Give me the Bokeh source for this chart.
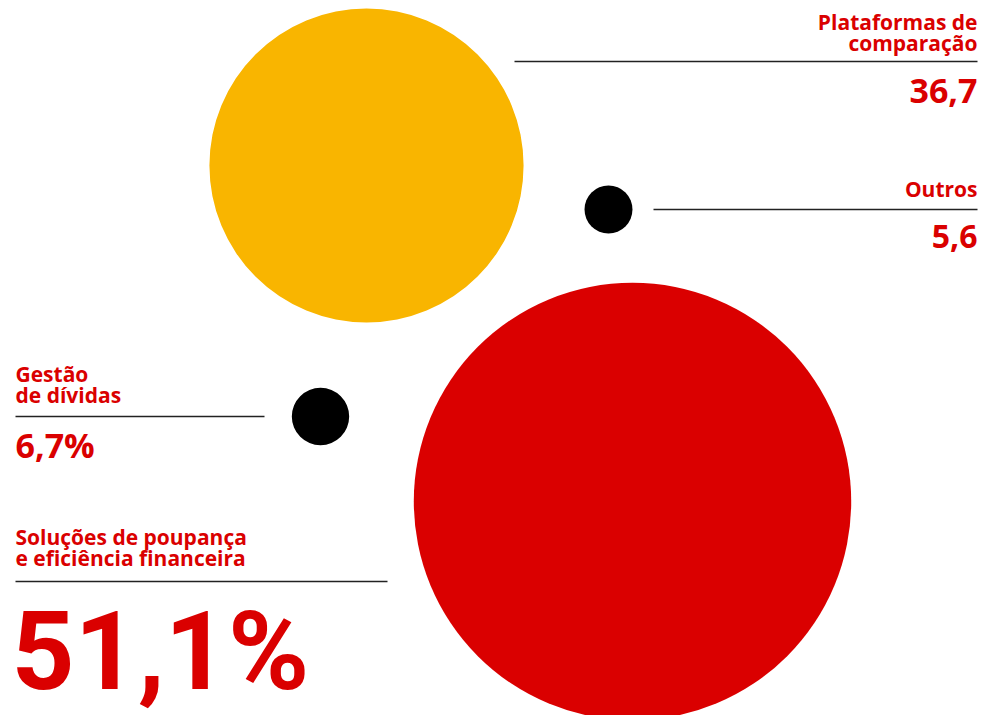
from bokeh.plotting import figure
from bokeh.models import Range1d
from bokeh.core.properties import value
from bokeh.embed import file_html
from bokeh.resources import INLINE

# ---- data ----
categories = ["Soluções de poupança e eficiência financeira",
              "Plataformas de comparação",
              "Gestão de dívidas",
              "Outros"]
values = [51.1, 36.7, 6.7, 5.6]
value_labels = ["51,1%", "36,7", "6,7%", "5,6"]
label_lines = [["Soluções de poupança", "e eficiência financeira"],
               ["Plataformas de", "comparação"],
               ["Gestão", "de dívidas"],
               ["Outros"]]
colors = ["#DA0000", "#F9B500", "#000000", "#000000"]

# ---- layout (pixel coordinates, y downward) ----
W, H = 993, 715
radius_per_unit = 4.28
centers_x = [632, 366, 320, 608]
centers_y = [501, 165, 416, 209]
label_x = [15, 977, 15, 977]
label_align = ["left", "right", "left", "right"]
label_base = [543, 28, 380, 195]
rule_y = [581, 61, 416, 209]
rule_x0 = [15, 514, 15, 653]
rule_x1 = [387, 977, 264, 977]
value_base = [687, 102, 456, 247]
value_px = [110, 34, 34, 32]
value_font = ["Roboto", "Open Sans", "Open Sans", "Open Sans"]
label_px = 21
shift = 0.33  # baseline correction in em

TEXT_RED = "#DA0000"

p = figure(width=W, height=H, output_backend="svg", toolbar_location=None,
           x_range=Range1d(0, W), y_range=Range1d(H, 0),
           min_border=0, tools="")
p.axis.visible = False
p.grid.visible = False
p.outline_line_color = None
p.background_fill_color = "white"
p.border_fill_color = "white"

radii = [v * radius_per_unit for v in values]
p.circle(x=centers_x, y=centers_y, radius=radii, fill_color=colors,
         line_color=None)

p.segment(x0=rule_x0, y0=rule_y, x1=rule_x1, y1=rule_y,
          line_color="#222222", line_width=1.5)

for i in range(len(categories)):
    for j, line in enumerate(label_lines[i]):
        p.text(x=[label_x[i]], y=[label_base[i] + 21 * j - shift * label_px],
               text=[line],
               text_font=value("Open Sans"), text_font_style="bold",
               text_font_size=f"{label_px}px", text_color=TEXT_RED,
               text_align=label_align[i], text_baseline="alphabetic")
    p.text(x=[label_x[i] - (4 if i == 0 else 0)],
           y=[value_base[i] - shift * value_px[i]],
           text=[value_labels[i]],
           text_font=value(value_font[i]), text_font_style="bold",
           text_font_size=f"{value_px[i]}px", text_color=TEXT_RED,
           text_align=label_align[i], text_baseline="alphabetic")

open("out.html", "w").write(file_html(p, INLINE))
